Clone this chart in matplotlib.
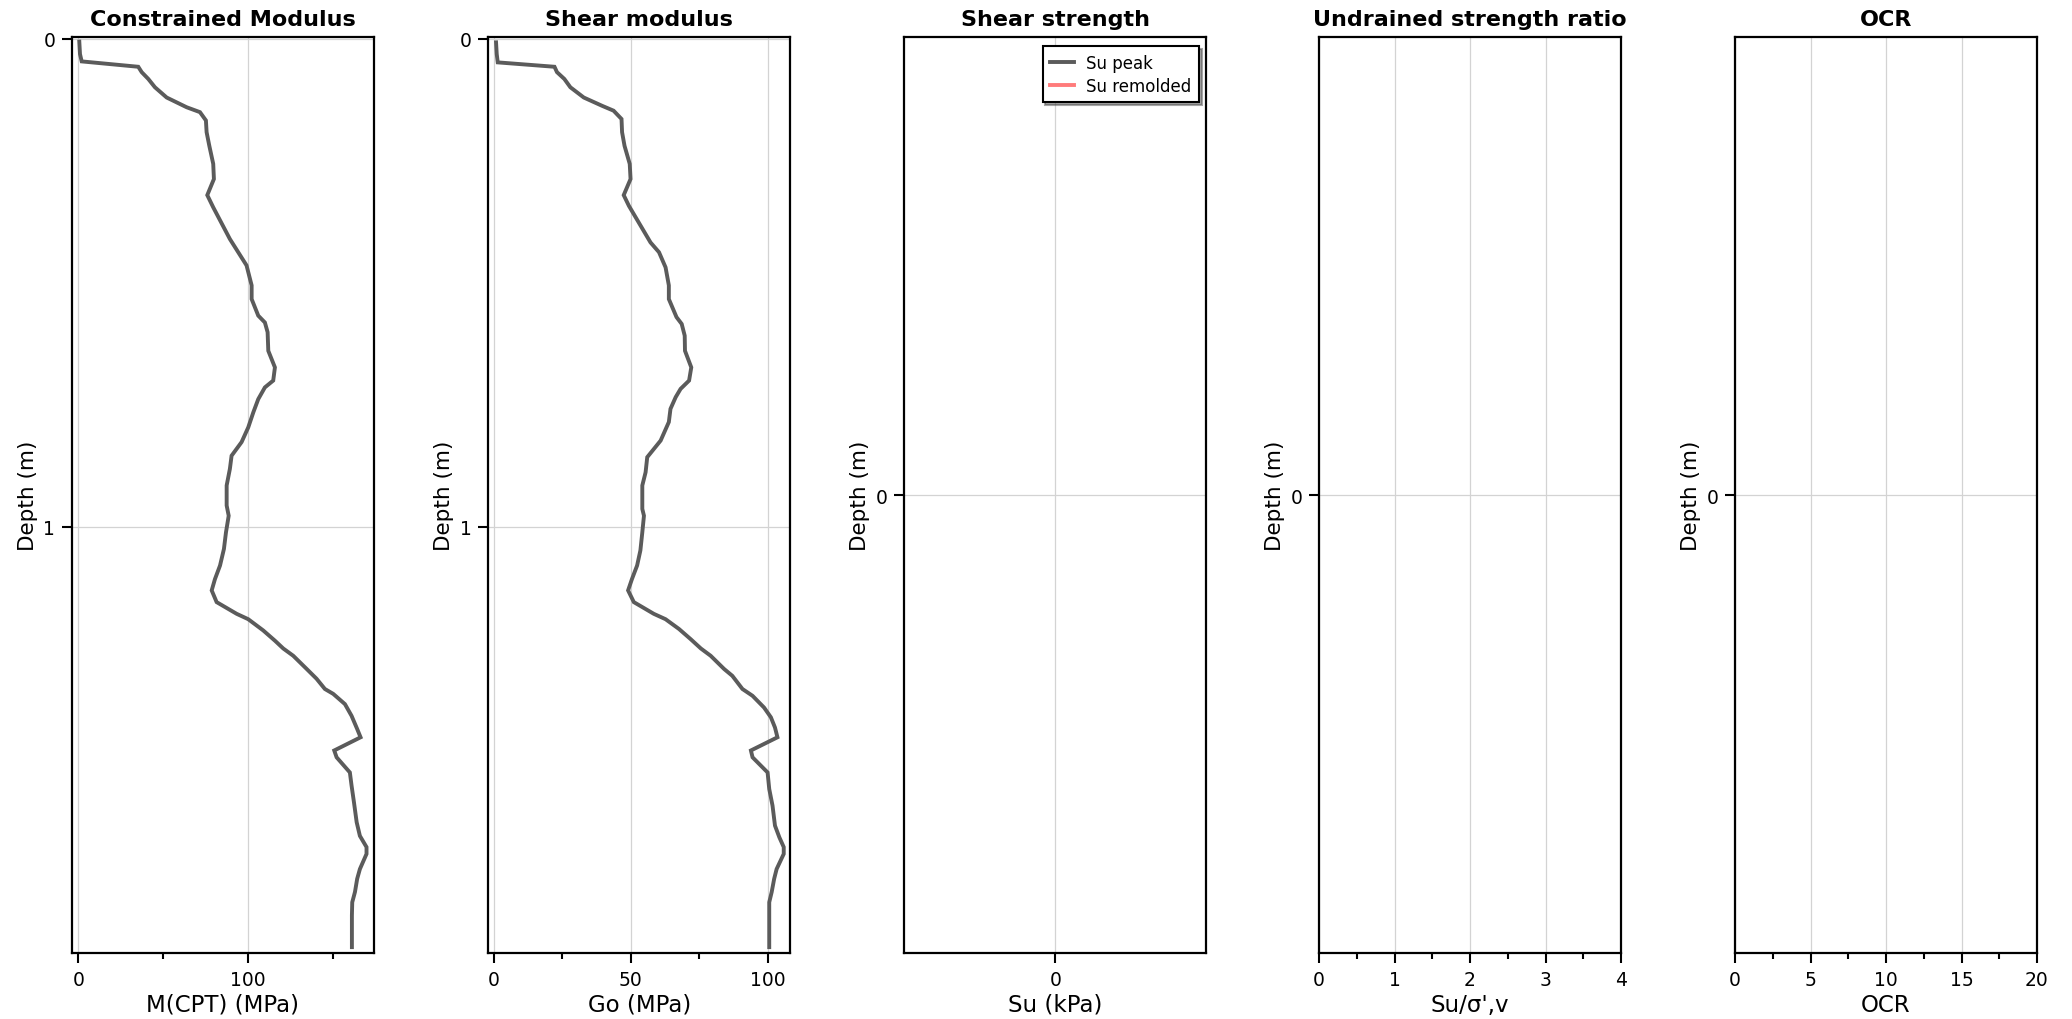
import matplotlib
matplotlib.use("Agg")
import matplotlib.pyplot as plt
from matplotlib.ticker import MultipleLocator, FixedLocator

plt.rcParams['font.family'] = ['DejaVu Sans']

# ---- data ----
depth_m = [0.0055, 0.031, 0.046, 0.057, 0.068, 0.082, 0.099, 0.12, 0.14, 0.15, 0.167, 0.191,
           0.219, 0.256, 0.287, 0.32, 0.345, 0.41, 0.437, 0.464, 0.505, 0.533, 0.567, 0.581,
           0.601, 0.639, 0.673, 0.70, 0.714, 0.738, 0.765, 0.796, 0.826, 0.854, 0.881, 0.915,
           0.956, 0.977, 1.011, 1.045, 1.079, 1.107, 1.13, 1.154, 1.178, 1.189, 1.212, 1.233,
           1.249, 1.264, 1.291, 1.311, 1.332, 1.342, 1.363, 1.387, 1.414, 1.431, 1.458, 1.472,
           1.503, 1.53, 1.564, 1.605, 1.633, 1.656, 1.67, 1.701, 1.721, 1.748, 1.769, 1.796, 1.861]
m_cpt = [0.6, 1.0, 2.0, 35.3, 37.3, 41.2, 45.1, 52.0, 63.8, 71.6, 75.1, 75.5,
         77.1, 79.4, 79.8, 75.9, 79.4, 89.2, 94.1, 99.0, 102.0, 102.0, 105.9, 109.8,
         111.4, 111.8, 115.7, 114.7, 109.8, 105.9, 103.0, 100.0, 96.1, 90.2, 89.2, 87.3,
         87.3, 88.5, 86.9, 85.7, 83.4, 80.4, 78.5, 81.4, 93.2, 100.0, 108.8, 115.7,
         120.6, 126.5, 134.4, 140.2, 145.1, 150.0, 156.9, 160.8, 164.1, 166.1, 150.6, 152.0,
         159.8, 160.8, 162.2, 163.8, 165.7, 169.6, 169.6, 165.7, 164.1, 162.8, 161.2, 161.0, 161.0]

depth_go = [0.007, 0.031, 0.048, 0.057, 0.068, 0.082, 0.099, 0.12, 0.137, 0.147, 0.164, 0.191,
            0.219, 0.256, 0.287, 0.32, 0.342, 0.417, 0.437, 0.468, 0.505, 0.533, 0.570, 0.584,
            0.608, 0.639, 0.673, 0.70, 0.717, 0.734, 0.758, 0.785, 0.823, 0.857, 0.888, 0.915,
            0.963, 0.977, 1.011, 1.048, 1.079, 1.107, 1.13, 1.154, 1.178, 1.189, 1.209, 1.23,
            1.249, 1.264, 1.291, 1.305, 1.332, 1.346, 1.37, 1.39, 1.411, 1.431, 1.458, 1.472,
            1.503, 1.537, 1.571, 1.612, 1.636, 1.656, 1.67, 1.701, 1.721, 1.748, 1.769, 1.861]
go = [0.73, 0.98, 1.35, 22.1, 23.0, 25.7, 27.9, 32.8, 39.5, 43.7, 46.6, 46.8,
      47.7, 49.6, 49.9, 47.4, 49.3, 57.2, 60.3, 62.7, 63.9, 63.9, 66.7, 68.6,
      69.7, 69.8, 72.1, 71.3, 68.2, 66.4, 64.5, 63.9, 60.9, 56.0, 55.4, 54.2,
      54.2, 54.8, 54.2, 53.5, 52.3, 50.4, 49.0, 51.1, 58.4, 62.7, 67.6, 71.9,
      75.6, 79.2, 84.1, 87.1, 90.8, 94.5, 98.7, 101.2, 102.7, 103.6, 93.9, 94.5,
      100.0, 100.6, 101.8, 102.7, 104.3, 105.9, 105.9, 103.3, 102.4, 101.5, 100.6, 100.6]

su_peak = []
su_remolded = []
su_depth = []

titles = ["Constrained Modulus", "Shear modulus", "Shear strength",
          "Undrained strength ratio", "OCR"]
xlabels = ["M(CPT) (MPa)", "Go (MPa)", "Su (kPa)", "Su/σ',v", "OCR"]
legend_labels = ["Su peak", "Su remolded"]

# ---- styling ----
LINE_C = "#5b5b5b"
REM_C = "#ff7b7b"
GRID_C = "#d3d3d3"

W, H = 2072, 1020
fig = plt.figure(figsize=(W / 100, H / 100), dpi=100)

lefts_px = [72, 488.3, 904.3, 1319, 1735]
width_px = 302
top_px, bottom_px = 38, 954

axes = []
for lp in lefts_px:
    ax = fig.add_axes([lp / W, 1 - bottom_px / H, width_px / W, (bottom_px - top_px) / H])
    axes.append(ax)

for i, ax in enumerate(axes):
    for s in ax.spines.values():
        s.set_linewidth(1.6)
        s.set_color("black")
    ax.tick_params(which="major", length=7, width=1.5, labelsize=13.5, pad=5, color="black")
    ax.tick_params(which="minor", length=4.5, width=1.5, color="black")
    ax.grid(True, which="major", color=GRID_C, linewidth=0.9)
    ax.set_axisbelow(True)
    ax.set_title(titles[i], fontsize=16, fontweight="bold", pad=9)
    ax.set_xlabel(xlabels[i], fontsize=16.5, labelpad=3)
    ax.set_ylabel("Depth (m)", fontsize=15.5, labelpad=4)

# Panel 1
ax = axes[0]
ax.plot(m_cpt, depth_m, color=LINE_C, linewidth=2.8, solid_joinstyle="miter")
ax.set_xlim(-3.7, 174)
ax.set_ylim(1.873, -0.004)
ax.xaxis.set_major_locator(MultipleLocator(100))
ax.xaxis.set_minor_locator(MultipleLocator(50))
ax.yaxis.set_major_locator(MultipleLocator(1))

# Panel 2
ax = axes[1]
ax.plot(go, depth_go, color=LINE_C, linewidth=2.8, solid_joinstyle="miter")
ax.set_xlim(-2.1, 108.3)
ax.set_ylim(1.873, -0.004)
ax.xaxis.set_major_locator(MultipleLocator(50))
ax.xaxis.set_minor_locator(MultipleLocator(25))
ax.yaxis.set_major_locator(MultipleLocator(1))

# Panel 3
ax = axes[2]
ax.plot(su_peak, su_depth, color=LINE_C, linewidth=2.8, label=legend_labels[0])
ax.plot(su_remolded, su_depth, color=REM_C, linewidth=2.8, label=legend_labels[1])
ax.set_xlim(-0.06, 0.06)
ax.set_ylim(0.06, -0.06)
ax.xaxis.set_major_locator(FixedLocator([0]))
ax.yaxis.set_major_locator(FixedLocator([0]))
leg = ax.legend(loc="upper right", bbox_to_anchor=(0.975, 0.99), borderaxespad=0,
                fontsize=12, frameon=True, fancybox=False, shadow=True,
                handlelength=1.45, handletextpad=0.7, borderpad=0.45, labelspacing=0.3)
leg.get_frame().set_edgecolor("black")
leg.get_frame().set_linewidth(1.5)

# Panel 4
ax = axes[3]
ax.set_xlim(0, 4)
ax.set_ylim(0.06, -0.06)
ax.xaxis.set_major_locator(MultipleLocator(1))
ax.xaxis.set_minor_locator(MultipleLocator(0.5))
ax.yaxis.set_major_locator(FixedLocator([0]))

# Panel 5
ax = axes[4]
ax.set_xlim(0, 20)
ax.set_ylim(0.06, -0.06)
ax.xaxis.set_major_locator(MultipleLocator(5))
ax.xaxis.set_minor_locator(MultipleLocator(2.5))
ax.yaxis.set_major_locator(FixedLocator([0]))

fig.savefig("out.png", dpi=100)
